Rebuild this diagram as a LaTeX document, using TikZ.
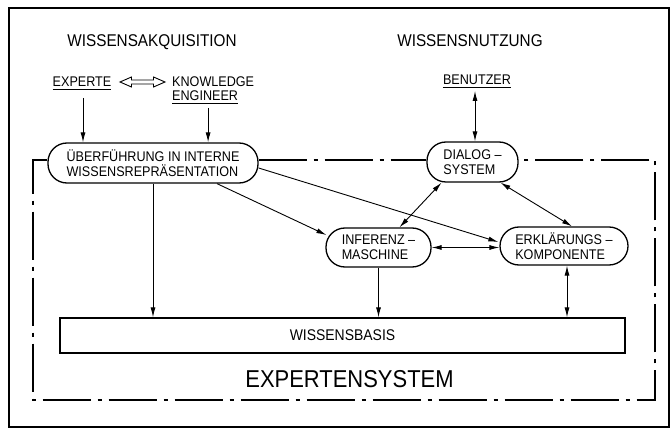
\documentclass[tikz,border=0pt]{standalone}
\usepackage{fontspec}
\setmainfont{Liberation Sans}[FakeStretch=0.9]
\usetikzlibrary{arrows.meta,calc}
\begin{document}
\begin{tikzpicture}[x=1pt,y=-1pt,
  lab/.style={inner sep=0pt, font=\fontsize{14}{15}\selectfont},
  headlab/.style={inner sep=0pt, font=\fontsize{17}{18}\selectfont},
  rbox/.style={draw, line width=1.3pt, rounded corners=19pt, align=left,
    font=\fontsize{14}{15}\selectfont, inner sep=0pt},
  arr/.style={line width=0.9pt, -{Latex[length=10pt,width=5pt]}},
  darr/.style={line width=0.9pt, {Latex[length=10pt,width=5pt]}-{Latex[length=10pt,width=5pt]}},
  framedd/.style={line width=1.8pt, dash pattern=on 48pt off 7pt on 4pt off 7pt},
  uline/.style={line width=1pt},
]
\useasboundingbox (0,0) rectangle (672,430);
\draw[line width=1.3pt] (9,8) rectangle (669,427);

% headings
\node[headlab] (acq) at (152,42) {WISSENSAKQUISITION};
\node[headlab] (nutz) at (470,41) {WISSENSNUTZUNG};

% people
\node[lab, anchor=base] (experte) at (82,87) {EXPERTE};
\draw[uline] ($(experte.base west)+(0,2.5)$) -- ($(experte.base east)+(0,2.5)$);
\node[lab, anchor=base west] (know) at (172,87) {KNOWLEDGE};
\node[lab, anchor=base west] (eng) at (172,101) {ENGINEER};
\draw[uline] ($(eng.base west)+(0,2.5)$) -- ($(eng.base east)+(0,2.5)$);
\node[lab, anchor=base] (benutzer) at (477,85) {BENUTZER};
\draw[uline] ($(benutzer.base west)+(0,3)$) -- ($(benutzer.base east)+(0,3)$);

% hollow double arrow
\coordinate (dbl) at (142.5,82);
\draw[line width=0.9pt, line join=miter] ($(dbl)+(-22.5,0)$) -- ($(dbl)+(-11,-5)$) -- ($(dbl)+(-11,-2)$)
  -- ($(dbl)+(11,-2)$) -- ($(dbl)+(11,-5)$) -- ($(dbl)+(22.5,0)$) -- ($(dbl)+(11,5)$)
  -- ($(dbl)+(11,2)$) -- ($(dbl)+(-11,2)$) -- ($(dbl)+(-11,5)$) -- cycle;

% boxes
\node[rbox, minimum width=210pt, minimum height=40pt] (ueber) at (153,163)
  {ÜBERFÜHRUNG IN INTERNE\\WISSENSREPRÄSENTATION};
\node[rbox, minimum width=91pt, minimum height=40pt] (dialog) at (472.5,162)
  {DIALOG –\\SYSTEM};
\node[rbox, minimum width=105pt, minimum height=39pt] (inferenz) at (378.5,247.5)
  {INFERENZ –\\MASCHINE};
\node[rbox, minimum width=128pt, minimum height=38pt] (erkl) at (564,246)
  {ERKLÄRUNGS –\\KOMPONENTE};
\node[draw, line width=1.3pt, minimum width=565pt, minimum height=35pt, inner sep=0pt,
  font=\fontsize{15.5}{16}\selectfont] (basis) at (342.5,335.5) {WISSENSBASIS};
\node[inner sep=0pt, font=\fontsize{24.4}{26}\selectfont] (es) at (349.5,379) {EXPERTENSYSTEM};

% dash-dot frame
\draw[framedd] ($(ueber.west)+(0,-3)$) -- (33,160) -- (33,400) -- (655,400) -- (655,160) -- ($(dialog.east)+(0,-2)$);
\draw[framedd] ($(ueber.east)+(0,-3)$) -- ($(dialog.west)+(0,-2)$);

% connectors
\draw[arr] ($(experte.base)+(1,11)$) -- ($(ueber.north -| experte.base)+(1,0)$);
\draw[arr] ($(eng.base)+(3,7)$) -- ($(ueber.north -| eng.base)+(3,0)$);
\draw[darr] ($(benutzer.base)+(-2,6)$) -- ($(dialog.north -| benutzer.base)+(-2,0)$);
\draw[arr] (ueber.south) -- (ueber.south |- basis.north);
\draw[arr] ($(ueber.south)+(64,0)$) -- ($(inferenz.west)+(1,-12.5)$);
\draw[arr] ($(ueber.east)+(0,5)$) -- ($(erkl.west)+(-1,-4)$);
\draw[darr] ($(dialog.south)+(-31,0)$) -- ($(inferenz.north)+(21,0)$);
\draw[darr] ($(dialog.south)+(28,0)$) -- ($(erkl.north)+(8,0)$);
\draw[darr] (inferenz.east) -- (inferenz.east -| erkl.west);
\draw[arr] (inferenz.south) -- (inferenz.south |- basis.north);
\draw[darr] ($(erkl.south)+(3,0)$) -- ($(erkl.south |- basis.north)+(3,0)$);
\end{tikzpicture}
\end{document}
